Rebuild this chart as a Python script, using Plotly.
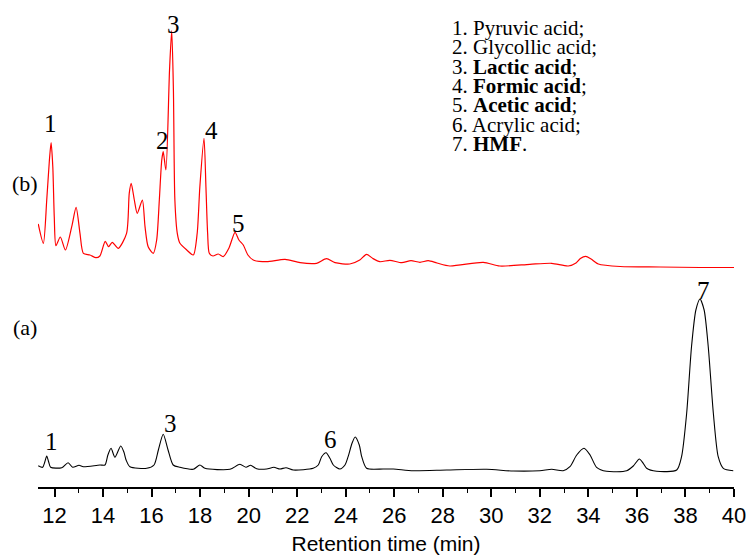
import plotly.graph_objects as go

# Chromatogram (b) - red trace (retention time in min, signal in a.u., offset trace)
time_b = [11.33, 11.54, 11.68, 11.79, 11.86, 11.93, 11.99, 12.06, 12.24, 12.45,
          12.71, 12.89, 13.05, 13.19, 13.46, 13.71, 13.87, 14.09, 14.23, 14.38,
          14.63, 14.97, 15.08, 15.16, 15.29, 15.41, 15.62, 15.73, 15.86, 16.07,
          16.21, 16.32, 16.42, 16.48, 16.59, 16.74, 16.83, 16.90, 16.96, 17.06,
          17.17, 17.45, 17.72, 17.88, 17.99, 18.16, 18.24, 18.31, 18.38, 18.53,
          18.75, 18.95, 19.19, 19.44, 19.60, 19.78, 19.97, 20.19, 20.74, 21.50,
          22.12, 22.80, 23.21, 23.56, 24.17, 24.58, 24.86, 25.12, 25.41, 25.82,
          26.31, 26.69, 27.06, 27.40, 27.76, 28.29, 29.67, 30.35, 31.59, 32.49,
          33.17, 33.49, 33.67, 33.89, 34.11, 34.41, 35.31, 36.96, 38.60, 40.00]
signal_b = [263, 243.7, 287, 327, 344.3, 320.3, 270.3, 241.3, 250, 237,
            260.3, 279.7, 253.7, 233.7, 232, 229.3, 231, 245.7, 240.3, 244.7,
            238.7, 253.7, 293.7, 303.7, 287, 273.7, 287, 260.3, 240.3, 233.7,
            247, 287, 327, 335.3, 317, 417, 456.3, 397, 287, 253.7,
            243.7, 237, 232, 253.7, 300.3, 348.7, 300.3, 253.7, 233.7, 231,
            233, 230.3, 239, 254.7, 247, 242, 232, 227, 225.3, 227.7,
            224.3, 223.7, 228.3, 224.3, 223, 227, 232.7, 228.5, 225.3, 226.7,
            224.3, 226.3, 224.7, 226.3, 224, 221, 224.7, 221, 222.7, 223.7,
            221, 224, 228.5, 230.7, 228, 223, 220.5, 220, 219.5, 219.5]

# Chromatogram (a) - black trace
time_a = [11.33, 11.51, 11.60, 11.68, 11.76, 11.84, 12.30, 12.56, 12.75, 13.01,
          13.19, 13.87, 14.08, 14.20, 14.33, 14.49, 14.73, 14.86, 14.95, 15.11,
          15.80, 16.10, 16.28, 16.48, 16.68, 16.89, 17.17, 17.72, 17.99, 18.20,
          19.23, 19.64, 19.89, 20.08, 20.33, 20.74, 21.04, 21.29, 21.54, 21.84,
          22.66, 22.87, 23.01, 23.19, 23.35, 23.49, 23.76, 23.97, 24.10, 24.26,
          24.39, 24.56, 24.66, 24.86, 25.55, 25.96, 26.78, 28.16, 29.81, 30.90,
          32.00, 32.49, 32.96, 33.24, 33.52, 33.82, 34.07, 34.34, 34.75, 35.58,
          35.85, 36.10, 36.26, 36.40, 36.81, 37.64, 37.84, 38.05, 38.25, 38.43,
          38.60, 38.77, 38.94, 39.15, 39.35, 39.56, 39.97]
signal_a = [21.3, 19.7, 25, 31, 25, 19.7, 19.3, 24.3, 19.7, 21.7,
            20.3, 22, 22, 32, 38.7, 29.7, 41, 35, 27, 20.3,
            18.7, 22, 37, 52.7, 37, 22, 19.7, 17.7, 22, 18.7,
            17.7, 22.7, 19.7, 21.7, 18.3, 18, 19.7, 18, 19.3, 17,
            18.7, 22, 30.3, 34.3, 28.7, 22, 18, 22, 30.3, 43.7,
            50, 42, 30.3, 18.7, 18, 18, 16.3, 17, 17.7, 16,
            16.3, 17.7, 16.3, 20.3, 32, 38.7, 32, 19.7, 15.7, 16.3,
            21, 28, 23.7, 18.7, 15.7, 17, 30.3, 73.7, 140.3, 177,
            188, 177, 140.3, 73.7, 30.3, 18.7, 16.3]

# Peak labels
peak_labels_b = ["1", "2", "3", "4", "5"]
peak_time_b = [11.84, 16.44, 16.92, 18.49, 19.57]
peak_sig_b = [363.7, 346.3, 463, 357, 263.7]
peak_labels_a = ["1", "3", "6", "7"]
peak_time_a = [11.88, 16.76, 23.39, 38.73]
peak_sig_a = [45.3, 63.7, 47.7, 197]

legend_lines = ["1. Pyruvic acid;", "2. Glycollic acid;", "3. <b>Lactic acid</b>;",
                "4. <b>Formic acid</b>;", "5. <b>Acetic acid</b>;", "6. Acrylic acid;",
                "7. <b>HMF</b>."]

xticks = list(range(12, 41, 2))
xminor = list(range(13, 40, 2))

serif = "Liberation Serif, Times New Roman, serif"
sans = "Liberation Sans, Arial, sans-serif"

fig = go.Figure()
fig.add_trace(go.Scatter(x=time_b, y=signal_b, mode="lines",
                         line=dict(color="#ff0000", width=1.2, shape="spline", smoothing=0.7),
                         showlegend=False, hoverinfo="skip"))
fig.add_trace(go.Scatter(x=time_a, y=signal_a, mode="lines",
                         line=dict(color="#000000", width=1.1, shape="spline", smoothing=0.7),
                         showlegend=False, hoverinfo="skip"))

anns = []
for t, x, y in zip(peak_labels_b + peak_labels_a, peak_time_b + peak_time_a, peak_sig_b + peak_sig_a):
    anns.append(dict(x=x, y=y, xref="x", yref="y", text=t, showarrow=False,
                     xanchor="center", yanchor="middle",
                     font=dict(family=serif, size=25, color="black")))

anns.append(dict(x=-0.0187, y=0.624, xref="paper", yref="paper", text="(b)", showarrow=False,
                 xanchor="center", yanchor="middle",
                 font=dict(family=serif, size=22, color="black")))
anns.append(dict(x=-0.0187, y=0.3285, xref="paper", yref="paper", text="(a)", showarrow=False,
                 xanchor="center", yanchor="middle",
                 font=dict(family=serif, size=22, color="black")))

leg_y0 = 28
leg_dy = 19.35
for i, line in enumerate(legend_lines):
    py = leg_y0 + i * leg_dy
    anns.append(dict(x=0.593, y=1 - py / 487, xref="paper", yref="paper", text=line,
                     showarrow=False, xanchor="left", yanchor="middle", borderpad=0,
                     font=dict(family=serif, size=21, color="black")))

fig.update_layout(
    width=746, height=556,
    margin=dict(l=38, r=12, t=0, b=69),
    paper_bgcolor="white", plot_bgcolor="white",
    annotations=anns,
    xaxis=dict(range=[11.32, 40.001], showgrid=False, zeroline=False,
               showline=True, linecolor="black", linewidth=1.5,
               ticks="outside", ticklen=8, tickwidth=1.5, tickcolor="black",
               tickvals=xticks, ticktext=[str(v) for v in xticks],
               ticklabeloverflow="allow",
               tickfont=dict(family=sans, size=22, color="black"),
               minor=dict(tickvals=xminor, ticks="outside",
                          ticklen=4, tickwidth=1.2, tickcolor="black"),
               title=dict(text="Retention time (min)", standoff=9,
                          font=dict(family=sans, size=21, color="black"))),
    yaxis=dict(range=[0, 487], visible=False),
)

fig.write_html("out.html")
